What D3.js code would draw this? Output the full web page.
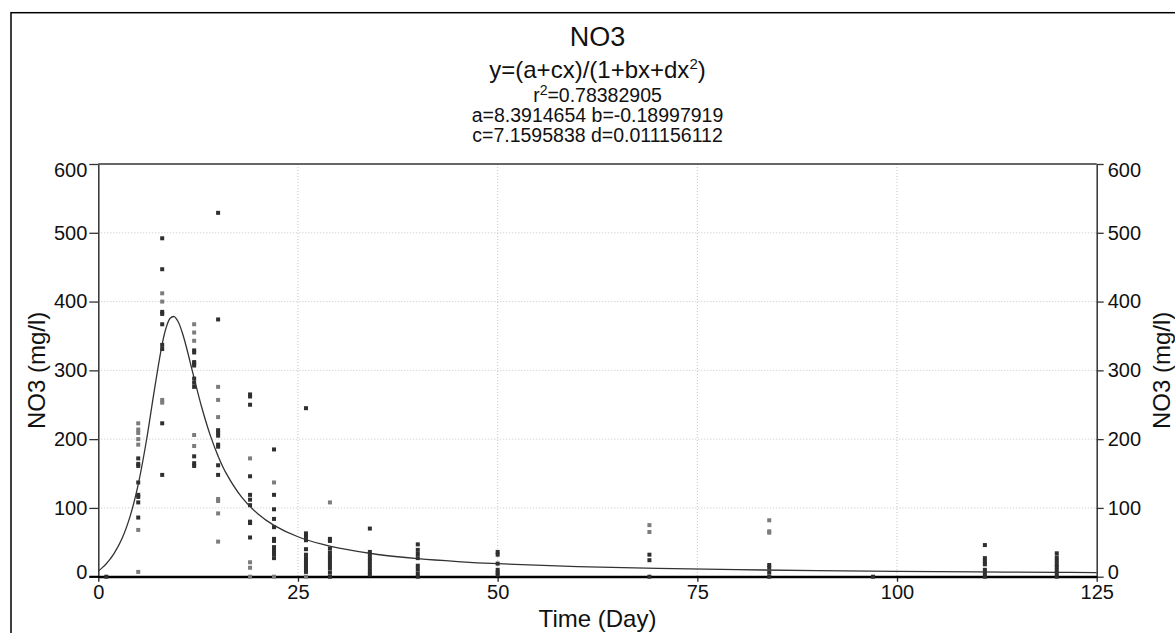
<!DOCTYPE html>
<html><head><meta charset="utf-8">
<script src="https://cdn.jsdelivr.net/npm/d3@7"></script>
<style>
body{margin:0;background:#fff;}
svg{display:block;}
text{font-family:"Liberation Sans",Arial,Helvetica,sans-serif;fill:#111;}
</style>
</head><body>
<svg id="c" width="1175" height="633"></svg>
<script>
// ---- data ----
const xTicks = [0, 25, 50, 75, 100, 125];
const yTicks = [0, 100, 200, 300, 400, 500, 600];

const days = [1, 5, 8, 12, 15, 19, 22, 26, 29, 34, 40, 50, 69, 84, 97, 111, 120];
const darkValues = [
  [0],
  [172, 164, 161, 137, 119, 116, 108, 86],
  [492, 447, 385, 382, 367, 337, 331, 223, 148],
  [329, 326, 312, 310, 307, 288, 282, 276, 175, 165, 161],
  [529, 374, 213, 209, 205, 192, 189, 162, 148],
  [265, 262, 250, 146, 119, 112, 104, 80, 78, 57],
  [185, 119, 98, 84, 72, 55, 52, 43, 38, 33, 27],
  [245, 63, 58, 53, 40, 32, 27, 22, 17, 12, 7],
  [55, 52, 41, 35, 30, 27, 22, 17, 12, 6, 0],
  [70, 36, 32, 27, 22, 17, 12, 7, 3],
  [47, 39, 33, 27, 16, 11, 5, 0],
  [36, 32, 19, 10, 6, 3],
  [32, 24, 0],
  [17, 13, 6, 0],
  [0],
  [46, 27, 22, 18, 10, 5, 0],
  [34, 28, 23, 18, 14, 9, 5, 0]
];
const grayValues = [
  [],
  [223, 214, 209, 200, 192, 68, 7],
  [412, 400, 257, 253],
  [367, 355, 343, 206, 190],
  [276, 257, 232, 113, 110, 92, 51],
  [172, 21, 13, 0],
  [137, 0],
  [0],
  [108],
  [], [], [],
  [75, 65],
  [82, 66, 64],
  [], [], []
];

// fitted curve
const curveX = [0, 0.5, 1, 1.5, 2, 3, 4, 5, 6, 7, 8, 8.5, 9, 9.5, 10, 10.5, 11, 12, 13, 14, 15, 16, 18, 20, 22, 25, 28, 30, 35, 40, 45, 50, 60, 70, 80, 90, 100, 110, 120, 125];
const curveY = [8.4, 13.2, 18.9, 25.9, 34.2, 56.3, 88.5, 134.3, 196.2, 269.9, 338.2, 362.2, 375.7, 378.2, 370.6, 355.3, 335.0, 288.6, 244.1, 206.2, 175.3, 150.6, 114.9, 91.2, 74.7, 58.1, 47.2, 41.8, 32.3, 26.2, 22.0, 18.9, 14.7, 12.0, 10.2, 8.8, 7.7, 6.9, 6.3, 6.0];

const titleLines = ["NO3"];
const statLines = ["a=8.3914654 b=-0.18997919", "c=7.1595838 d=0.011156112"];

// ---- drawing ----
const svg = d3.select("#c");
const L = 98.3, R = 1096.7, T = 164, B = 576.7;
const x = d3.scaleLinear().domain([0, 125]).range([L, R]);
const y = d3.scaleLinear().domain([0, 600]).range([B, T]);
const cx = (L + R) / 2;

// outer frame
svg.append("rect").attr("x", 11).attr("y", 12.7).attr("width", 1300).attr("height", 800)
  .attr("fill", "none").attr("stroke", "#000").attr("stroke-width", 1.5);

// grid
svg.append("g").selectAll("line").data(yTicks.filter(d => d > 0 && d < 600)).join("line")
  .attr("x1", L).attr("x2", R).attr("y1", d => y(d)).attr("y2", d => y(d))
  .attr("stroke", "#c4c4c4").attr("stroke-width", 1).attr("stroke-dasharray", "1,2");
svg.append("g").selectAll("line").data(xTicks.filter(d => d > 0 && d < 125)).join("line")
  .attr("x1", d => x(d)).attr("x2", d => x(d)).attr("y1", T).attr("y2", B)
  .attr("stroke", "#c4c4c4").attr("stroke-width", 1).attr("stroke-dasharray", "1,2");

// plot top border
svg.append("line").attr("x1", L).attr("x2", R).attr("y1", T).attr("y2", T)
  .attr("stroke", "#333").attr("stroke-width", 1.5);

function styleY(g) {
  g.select(".domain").attr("stroke", "#333").attr("stroke-width", 1.5);
  g.selectAll(".tick line").attr("stroke", "#333").attr("stroke-width", 1.3);
  g.selectAll(".tick text").attr("font-size", 20).attr("fill", "#111")
    .attr("font-family", '"Liberation Sans",Arial,sans-serif')
    .attr("dy", d => d === 0 ? "0.07em" : d === 600 ? "0.62em" : "0.32em");
}
svg.append("g").attr("transform", `translate(${L},0)`)
  .call(d3.axisLeft(y).tickValues(yTicks).tickSize(9).tickSizeOuter(0).tickPadding(2))
  .call(styleY);
svg.append("g").attr("transform", `translate(${R},0)`)
  .call(d3.axisRight(y).tickValues(yTicks).tickSize(7).tickSizeOuter(0).tickPadding(4))
  .call(styleY);

const xg = svg.append("g").attr("transform", `translate(0,${B})`)
  .call(d3.axisBottom(x).tickValues(xTicks).tickSize(5).tickSizeOuter(0).tickPadding(3));
xg.select(".domain").attr("stroke", "#000").attr("stroke-width", 2);
xg.selectAll(".tick line").attr("stroke", "#222").attr("stroke-width", 1.3);
xg.selectAll(".tick text").attr("font-size", 20).attr("fill", "#111")
  .attr("font-family", '"Liberation Sans",Arial,sans-serif');
// extend bottom line to left tick
svg.append("line").attr("x1", L - 9).attr("x2", R).attr("y1", B).attr("y2", B)
  .attr("stroke", "#000").attr("stroke-width", 2);

// axis titles
svg.append("text").attr("transform", `translate(45,${(T + B) / 2}) rotate(-90)`)
  .attr("text-anchor", "middle").attr("font-size", 24).text("NO3 (mg/l)");
svg.append("text").attr("transform", `translate(1170,${(T + B) / 2}) rotate(-90)`)
  .attr("text-anchor", "middle").attr("font-size", 24).text("NO3 (mg/l)");
svg.append("text").attr("x", cx).attr("y", 627).attr("text-anchor", "middle")
  .attr("font-size", 24).text("Time (Day)");

// titles
svg.append("text").attr("x", cx).attr("y", 46).attr("text-anchor", "middle")
  .attr("font-size", 27).text(titleLines[0]);
const f = svg.append("text").attr("x", cx).attr("y", 78).attr("text-anchor", "middle").attr("font-size", 24);
f.append("tspan").text("y=(a+cx)/(1+bx+dx");
f.append("tspan").attr("font-size", 15).attr("dy", -9).text("2");
f.append("tspan").attr("dy", 9).text(")");
const r2 = svg.append("text").attr("x", cx).attr("y", 101.5).attr("text-anchor", "middle").attr("font-size", 19.5);
r2.append("tspan").text("r");
r2.append("tspan").attr("font-size", 14).attr("dy", -7).text("2");
r2.append("tspan").attr("dy", 7).text("=0.78382905");
svg.append("text").attr("x", cx).attr("y", 121.5).attr("text-anchor", "middle").attr("font-size", 19.5).text(statLines[0]);
svg.append("text").attr("x", cx).attr("y", 142).attr("text-anchor", "middle").attr("font-size", 19.5).text(statLines[1]);

// points
const gray = [], dark = [];
days.forEach((d, i) => {
  grayValues[i].forEach(v => gray.push([d, v]));
  darkValues[i].forEach(v => dark.push([d, v]));
});
const s = 4;
svg.append("g").selectAll("rect").data(gray).join("rect")
  .attr("x", d => x(d[0]) - s / 2).attr("y", d => y(d[1]) - s / 2)
  .attr("width", s).attr("height", s).attr("fill", "#7c7c7c");
svg.append("g").selectAll("rect").data(dark).join("rect")
  .attr("x", d => x(d[0]) - s / 2).attr("y", d => y(d[1]) - s / 2)
  .attr("width", s).attr("height", s).attr("fill", "#2f2f2f");

// curve
const line = d3.line().x((d, i) => x(curveX[i])).y((d, i) => y(curveY[i])).curve(d3.curveCatmullRom);
svg.append("path").datum(curveY).attr("d", line)
  .attr("fill", "none").attr("stroke", "#333").attr("stroke-width", 1.3);
</script>
</body></html>
